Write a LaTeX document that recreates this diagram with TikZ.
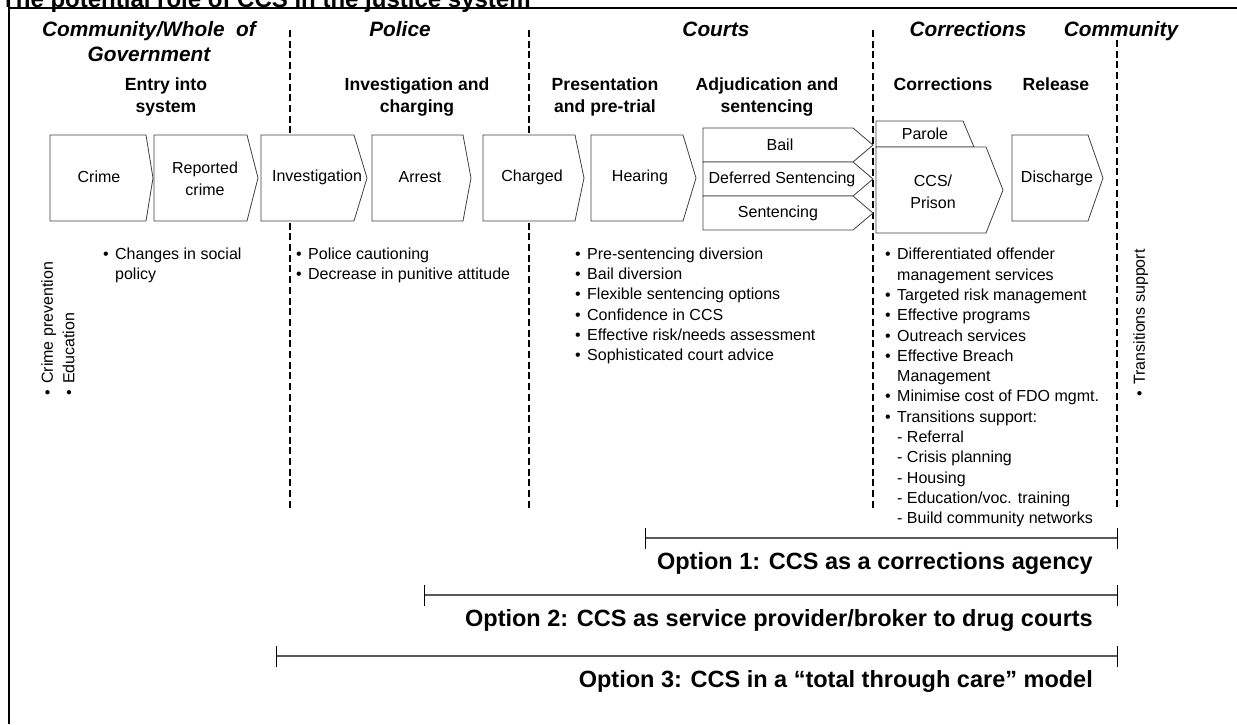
\documentclass[tikz,border=0pt]{standalone}
\usepackage{fontspec}
\setmainfont{Liberation Sans}
\newcommand\fsz[2]{\fontsize{#1}{#2}\selectfont}
\newcommand\bul{\makebox[12pt][l]{\textbullet}}
\newcommand\ind{\hspace*{12pt}}
\begin{document}
\begin{tikzpicture}[x=1pt,y=1pt,
  chev/.style={draw=black!75, line width=0.8pt, fill=white},
  sep/.style={draw=black, line width=1.8pt, dash pattern=on 7pt off 3.7pt},
  era/.style={font=\fsz{20.8}{25}\bfseries\itshape, inner sep=0, align=center, anchor=north},
  phase/.style={font=\fsz{17.6}{22}\bfseries, inner sep=0, align=center, anchor=north},
  btxt/.style={font=\fsz{16}{22}, inner sep=0, align=center},
  lst/.style={font=\fsz{16}{20.3}, inner sep=0, align=left, anchor=north west},
  rlst/.style={font=\fsz{16}{21.7}, inner sep=0, align=left, anchor=north west, rotate=90},
  opt/.style={font=\fsz{23.5}{28}\bfseries, inner sep=0, anchor=base east},
  optline/.style={draw=black!65, line width=2pt},
  tickline/.style={draw=black, line width=0.8pt}]
\useasboundingbox (0,0) rectangle (1237,-724);
\clip (0,0) rectangle (1237,-724);

% title (cut off at the top) and frame
\node[anchor=base west, font=\fsz{24}{28}\bfseries, inner sep=0] (title) at (1,-7.5) {The potential role of CCS in the justice system};
\draw[line width=2pt] (9,-724) -- (9,-8) -- (1237,-8);

% dashed separators
\coordinate (s1t) at (290,-30);  \coordinate (s1b) at (290,-509);
\coordinate (s2t) at (529,-30);  \coordinate (s2b) at (529,-509);
\coordinate (s3t) at (873,-30);  \coordinate (s3b) at (873,-509);
\coordinate (s4t) at (1117,-40); \coordinate (s4b) at (1117,-509);
\draw[sep] (s1t) -- (s1b);
\draw[sep] (s2t) -- (s2b);
\draw[sep] (s3t) -- (s3b);
\draw[sep] (s4t) -- (s4b);

% era headings
\node[era] (eComm) at (149,-21.5) {Community/Whole\ \ of\\Government};
\node[era] (ePol) at (400,-21.5) {Police};
\node[era] (eCourt) at (716,-21.5) {Courts};
\node[era] (eCorr) at (968,-21.5) {Corrections};
\node[era] (eComm2) at (1121,-21.5) {Community};

% phase headings
\node[phase] (pEntry) at (166,-78) {Entry into\\system};
\node[phase] (pInv) at (417,-78) {Investigation and\\charging};
\node[phase] (pPres) at (605,-78) {Presentation\\and pre-trial};
\node[phase] (pAdj) at (767,-78) {Adjudication and\\sentencing};
\node[phase] (pCorr) at (943,-78) {Corrections};
\node[phase] (pRel) at (1056,-78) {Release};

% process chevrons
\draw[chev] (50,-135) -- (146,-135) -- (153,-178) -- (146,-221) -- (50,-221) -- cycle;
\draw[chev] (154,-135) -- (247,-135) -- (258,-178) -- (247,-221) -- (154,-221) -- cycle;
\draw[chev] (261,-135) -- (354,-135) -- (367,-178) -- (354,-221) -- (261,-221) -- cycle;
\draw[chev] (372,-135) -- (463,-135) -- (471,-178) -- (463,-221) -- (372,-221) -- cycle;
\draw[chev] (483,-135) -- (575,-135) -- (584,-178) -- (575,-221) -- (483,-221) -- cycle;
\draw[chev] (591,-135) -- (683,-135) -- (696,-178) -- (683,-221) -- (591,-221) -- cycle;
\draw[chev] (703,-128) -- (853,-128) -- (873,-145) -- (853,-162) -- (703,-162) -- cycle;
\draw[chev] (703,-162) -- (853,-162) -- (873,-179) -- (853,-196) -- (703,-196) -- cycle;
\draw[chev] (703,-196) -- (853,-196) -- (873,-213) -- (853,-230) -- (703,-230) -- cycle;
\draw[chev] (876,-121) -- (963,-121) -- (974,-147) -- (876,-147) -- cycle;
\draw[chev] (876,-147) -- (986,-147) -- (1003,-190) -- (986,-233) -- (876,-233) -- cycle;
\draw[chev] (1012,-135) -- (1088,-135) -- (1103,-178) -- (1088,-221) -- (1012,-221) -- cycle;

\node[btxt] (crime) at (99,-177) {Crime};
\node[btxt] (reported) at (205,-179) {Reported\\crime};
\node[btxt] (invest) at (317,-177) {Investigation};
\node[btxt] (arrest) at (420,-177) {Arrest};
\node[btxt] (charged) at (532,-177) {Charged};
\node[btxt] (hearing) at (640,-177) {Hearing};
\node[btxt] (bail) at (780,-145) {Bail};
\node[btxt] (deferred) at (782,-179) {Deferred Sentencing};
\node[btxt] (sentencing) at (778,-213) {Sentencing};
\node[btxt] (parole) at (925,-134) {Parole};
\node[btxt] (ccs) at (933,-192) {CCS/\\Prison};
\node[btxt] (discharge) at (1057,-178) {Discharge};

% bullet lists
\node[rlst] (lCrime) at (41,-396) {\bul Crime prevention\\\bul Education};
\node[lst] (lSocial) at (103,-247.5) {\bul Changes in social\\\ind policy};
\node[lst] (lPolice) at (296,-247.5) {\bul Police cautioning\\\bul Decrease in punitive attitude};
\node[lst] (lCourts) at (575,-247.5) {\bul Pre-sentencing diversion\\\bul Bail diversion\\\bul Flexible sentencing options\\\bul Confidence in CCS\\\bul Effective risk/needs assessment\\\bul Sophisticated court advice};
\node[lst] (lCorr) at (885,-248) {\bul Differentiated offender\\\ind management services\\\bul Targeted risk management\\\bul Effective programs\\\bul Outreach services\\\bul Effective Breach\\\ind Management\\\bul Minimise cost of FDO mgmt.\\\bul Transitions support:\\\ind - Referral\\\ind - Crisis planning\\\ind - Housing\\\ind - Education/voc. training\\\ind - Build community networks};
\node[rlst] (lTrans) at (1133,-397) {\bul Transitions support};

% options
\coordinate (o1a) at (645,-538); \coordinate (o1b) at (1117,-538);
\coordinate (o2a) at (424,-595); \coordinate (o2b) at (1117,-595);
\coordinate (o3a) at (276,-656); \coordinate (o3b) at (1117,-656);
\draw[optline] (o1a) -- (o1b);
\draw[optline] (o2a) -- (o2b);
\draw[optline] (o3a) -- (o3b);
\foreach \p in {o1a,o1b,o2a,o2b,o3a,o3b}{
  \draw[tickline] ([yshift=10pt]\p) -- ([yshift=-11pt]\p);
}
\node[opt] (opt1) at (1093,-569) {Option 1: CCS as a corrections agency};
\node[opt] (opt2) at (1093,-626) {Option 2: CCS as service provider/broker to drug courts};
\node[opt] (opt3) at (1093,-687) {Option 3: CCS in a \textquotedblleft total through care\textquotedblright\ model};
\end{tikzpicture}
\end{document}
